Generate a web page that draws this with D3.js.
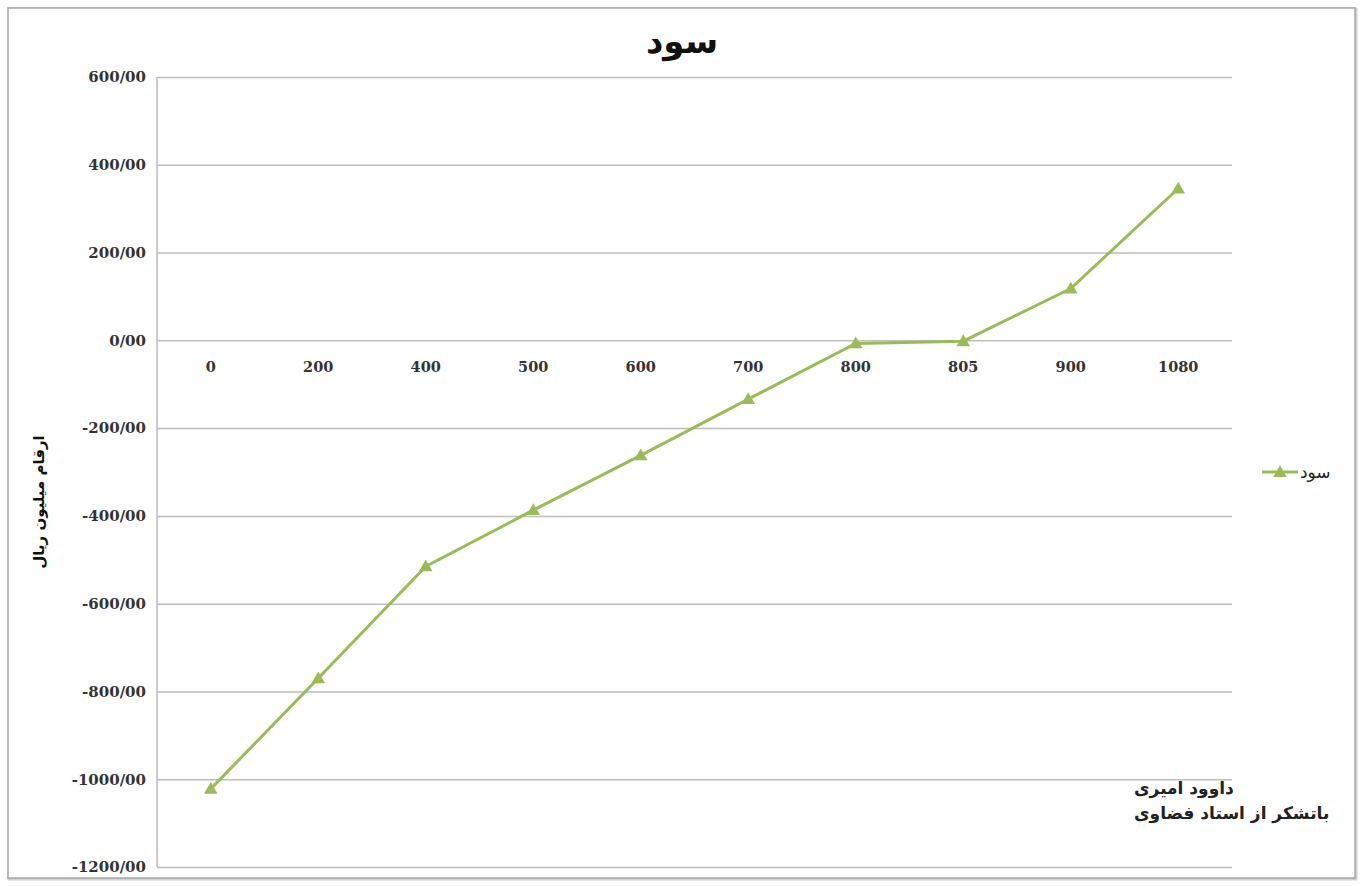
<!DOCTYPE html>
<html>
<head>
<meta charset="utf-8">
<script src="https://cdn.jsdelivr.net/npm/d3@7"></script>
<style>
  body { margin: 0; background: #fff; }
</style>
</head>
<body>
<div id="chart"></div>
<script>
  const categories = ['0', '200', '400', '500', '600', '700', '800', '805', '900', '1080'];
  const profit = [-1022, -770, -515, -387, -262, -134, -7, -2, 118, 346];
  const yTicks = [600, 400, 200, 0, -200, -400, -600, -800, -1000, -1200];
  const seriesName = 'سود';
  const notes = ['داوود امیری', 'باتشکر از استاد فضاوی'];

  const width = 1363;
  const height = 886;
  const margin = { top: 77, right: 131, bottom: 19, left: 157 };
  const green = '#9bbb59';

  const svg = d3
    .select('#chart')
    .append('svg')
    .attr('width', width)
    .attr('height', height);

  // outer frame
  svg.append('rect')
    .attr('x', 9).attr('y', 9)
    .attr('width', width - 16).attr('height', height - 16)
    .attr('fill', 'none').attr('stroke', '#d0d0d0').attr('stroke-width', 3);
  svg.append('rect')
    .attr('x', 8).attr('y', 8)
    .attr('width', width - 16).attr('height', height - 16)
    .attr('fill', '#fff').attr('stroke', '#a6a6a6').attr('stroke-width', 1.5);

  const x = d3.scaleBand()
    .domain(categories)
    .range([margin.left, width - margin.right]);

  const y = d3.scaleLinear()
    .domain([-1200, 600])
    .range([height - margin.bottom, margin.top]);

  // gridlines + y labels
  const yAxis = svg.append('g')
    .attr('transform', `translate(${margin.left},0)`)
    .call(d3.axisLeft(y).tickValues(yTicks).tickSize(-(width - margin.right - margin.left))
      .tickPadding(11).tickFormat(d => `${d}/00`));
  yAxis.select('.domain').remove();
  yAxis.selectAll('.tick line').attr('stroke', '#bdbdbd').attr('stroke-width', 1.5);
  yAxis.selectAll('.tick text')
    .attr('font-family', 'DejaVu Serif')
    .attr('font-weight', 'bold')
    .attr('font-size', 15)
    .attr('fill', '#333');

  // vertical axis line
  svg.append('line')
    .attr('x1', margin.left).attr('x2', margin.left)
    .attr('y1', margin.top).attr('y2', height - margin.bottom)
    .attr('stroke', '#bdbdbd').attr('stroke-width', 1.5);

  // x labels sit just under the zero line
  const xAxis = svg.append('g')
    .attr('transform', `translate(0,${y(0)})`)
    .call(d3.axisBottom(x).tickSize(0).tickPadding(21));
  xAxis.select('.domain').remove();
  xAxis.selectAll('.tick text')
    .attr('font-family', 'DejaVu Serif')
    .attr('font-weight', 'bold')
    .attr('font-size', 14.5)
    .attr('fill', '#333');

  // title
  svg.append('text')
    .attr('x', 682).attr('y', 53)
    .attr('text-anchor', 'middle')
    .attr('font-family', 'DejaVu Sans')
    .attr('font-weight', 'bold')
    .attr('font-size', 34)
    .attr('fill', '#111')
    .text(seriesName);

  // y axis title
  svg.append('text')
    .attr('transform', 'translate(44,502) rotate(-90)')
    .attr('text-anchor', 'middle')
    .attr('font-family', 'DejaVu Sans')
    .attr('font-weight', 'bold')
    .attr('font-size', 15)
    .attr('fill', '#111')
    .text('ارقام میلیون ریال');

  const cx = (d, i) => x(categories[i]) + x.bandwidth() / 2;

  // line
  const line = d3.line()
    .x((d, i) => cx(d, i))
    .y(d => y(d));
  svg.append('path')
    .datum(profit)
    .attr('d', line)
    .attr('fill', 'none')
    .attr('stroke', green)
    .attr('stroke-width', 3);

  const tri = d3.symbol().type(d3.symbolTriangle).size(80);
  svg.append('g')
    .selectAll('path')
    .data(profit)
    .join('path')
    .attr('d', tri)
    .attr('transform', (d, i) => `translate(${cx(d, i)},${y(d) + 1})`)
    .attr('fill', green);

  // legend
  const lg = svg.append('g').attr('transform', 'translate(1262,472)');
  lg.append('line')
    .attr('x1', 0).attr('x2', 36)
    .attr('stroke', green).attr('stroke-width', 3);
  lg.append('path')
    .attr('d', tri)
    .attr('transform', 'translate(18,1)')
    .attr('fill', green);
  lg.append('text')
    .attr('x', 38).attr('y', 6)
    .attr('font-family', 'DejaVu Sans')
    .attr('font-size', 17)
    .attr('fill', '#222')
    .text(seriesName);

  // annotation
  svg.append('g')
    .selectAll('text')
    .data(notes)
    .join('text')
    .attr('x', 1134)
    .attr('y', (d, i) => 794 + i * 25)
    .attr('font-family', 'DejaVu Sans')
    .attr('font-weight', 'bold')
    .attr('font-size', 17)
    .attr('fill', '#222')
    .text(d => d);
</script>
</body>
</html>
